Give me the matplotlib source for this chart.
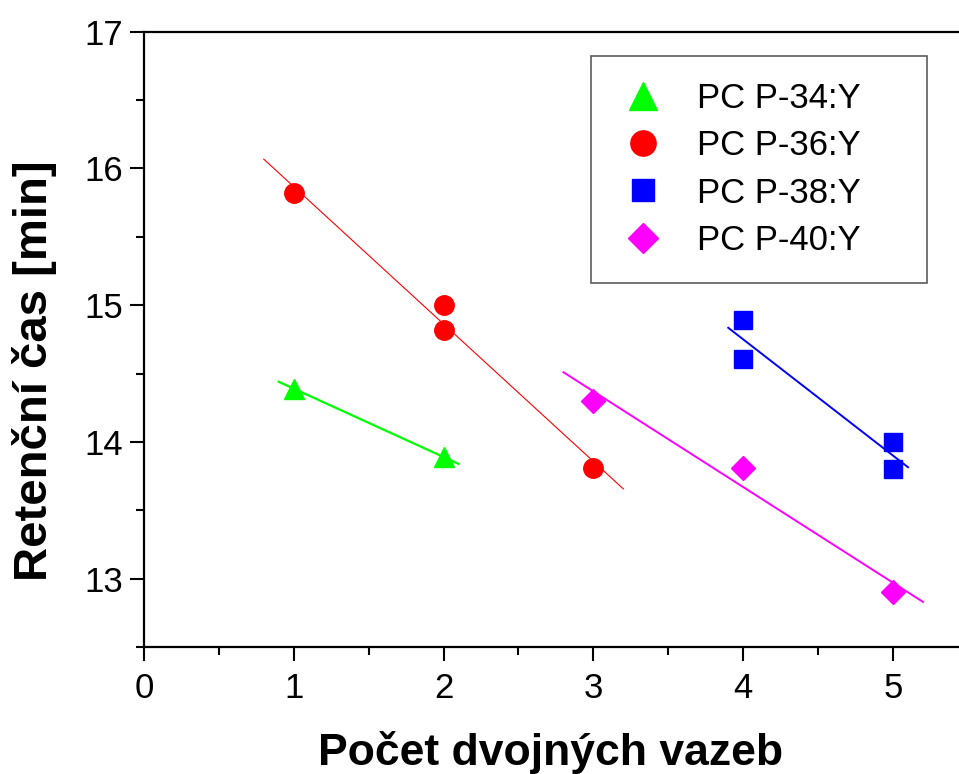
import numpy as np
import matplotlib
matplotlib.use("Agg")
import matplotlib.pyplot as plt
from matplotlib.ticker import MultipleLocator

plt.rcParams["font.family"] = ["Liberation Sans", "DejaVu Sans"]

# measured retention times per series
x34 = [1, 2]
y34 = [14.39, 13.89]
x36 = [1, 2, 2, 3]
y36 = [15.82, 15.00, 14.82, 13.81]
x38 = [4, 4, 5, 5]
y38 = [14.89, 14.61, 14.00, 13.80]
x40 = [3, 4, 5]
y40 = [14.30, 13.81, 12.90]

labels = ["PC P-34:Y", "PC P-36:Y", "PC P-38:Y", "PC P-40:Y"]
colors = ["#00ff00", "#ff0000", "#0000ff", "#ff00ff"]
markers = ["^", "o", "s", "D"]
msizes = [15, 14, 12.5, 12]
fit_ranges = [(0.9, 2.1), (0.8, 3.2), (3.9, 5.1), (2.8, 5.2)]
fit_widths = [1.6, 0.8, 1.4, 1.4]

W, H = 959, 774
fig = plt.figure(figsize=(W / 100, H / 100), dpi=100)
ax = fig.add_axes([0.150, 0.164, 0.850, 0.795])

series = [(x34, y34), (x36, y36), (x38, y38), (x40, y40)]
for (xs, ys), lab, c, m, ms, (a, b), lw in zip(series, labels, colors, markers,
                                               msizes, fit_ranges, fit_widths):
    # linear fit drawn a bit past the data
    k, q = np.polyfit(xs, ys, 1)
    xf = np.array([a, b])
    ax.plot(xf, k * xf + q, color=c, lw=lw, zorder=2)
    ax.plot(xs, ys, ls="none", marker=m, ms=ms, color=c, mec=c,
            label=lab, zorder=3)

ax.set_xlim(0, 5.44)
ax.set_ylim(12.5, 17)
ax.xaxis.set_major_locator(MultipleLocator(1))
ax.xaxis.set_minor_locator(MultipleLocator(0.5))
ax.yaxis.set_major_locator(MultipleLocator(1))
ax.yaxis.set_minor_locator(MultipleLocator(0.5))

for s in ["left", "bottom", "top"]:
    ax.spines[s].set_linewidth(1.6)
ax.spines["right"].set_visible(False)
ax.tick_params(which="major", direction="out", length=10, width=1.5,
               labelsize=25)
ax.tick_params(which="minor", direction="out", length=5.5, width=1.5)
ax.tick_params(axis="y", which="major", pad=5)
ax.tick_params(axis="x", which="major", pad=8)

# axis titles
fig.text((143 + 959) / 2 / W, 1 - 765 / H, "Počet dvojných vazeb",
         fontsize=32, fontweight="bold", ha="center", va="baseline")
fig.text(35 / W, 1 - 371 / H, "Retenční čas [min]", fontsize=34,
         fontweight="bold", rotation=90, ha="center", va="center")

leg = ax.legend(loc="upper left",
                bbox_to_anchor=(591 / W, 1 - 282 / H, 336 / W, 226 / H),
                bbox_transform=fig.transFigure, mode="expand", fontsize=25,
                frameon=True, fancybox=False, edgecolor="#333333",
                markerscale=1.3, handlelength=1.5, handletextpad=0.8,
                labelspacing=0.41, borderpad=0.75, borderaxespad=0,
                numpoints=1)
leg.get_frame().set_linewidth(1.2)

fig.savefig("out.png", dpi=100)
